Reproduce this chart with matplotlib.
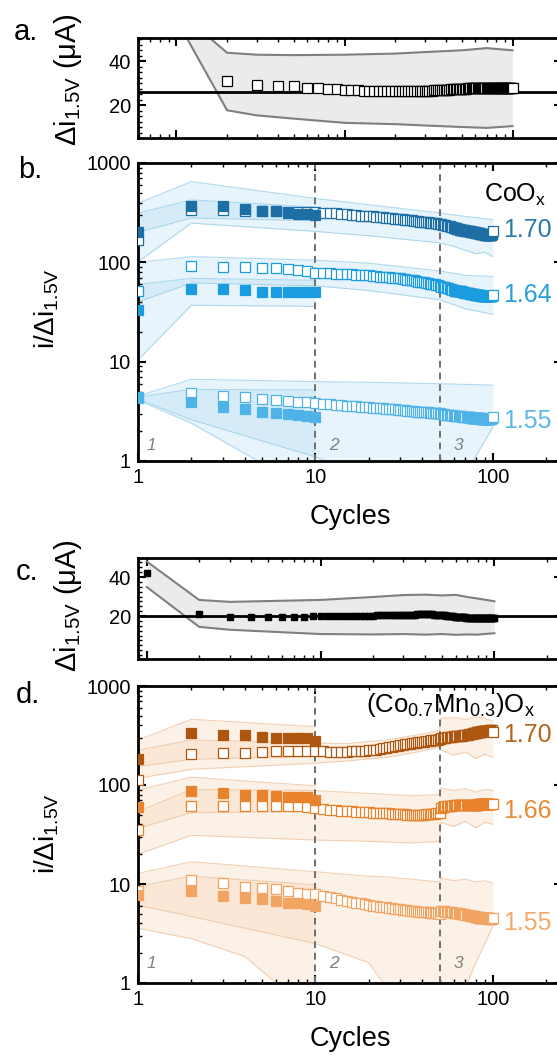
import numpy as np
import matplotlib.pyplot as plt
from matplotlib.ticker import FixedLocator, LogLocator, MultipleLocator, NullFormatter, FuncFormatter

plt.rcParams['font.family'] = ['Liberation Sans', 'DejaVu Sans']
plt.rcParams['mathtext.fontset'] = 'custom'
plt.rcParams['mathtext.rm'] = 'Liberation Sans'
plt.rcParams['mathtext.it'] = 'Liberation Sans:italic'
plt.rcParams['mathtext.default'] = 'regular'

FIG_W, FIG_H = 557, 1056
AX_LEFT, AX_RIGHT = 138, 562

CYCLES = np.arange(1, 101)
EARLY = np.arange(1, 11)
FB_CYC = [1, 2, 10]

# ---- panel a: current step at 1.5 V, CoOx ----
a_mean = [30.9, 29.1, 28.6, 28.6, 28.0, 28.0, 27.6, 27.6, 27.1,
          26.9, 26.8, 26.7, 26.6, 26.6, 26.5, 26.5, 26.5, 26.4, 26.4,
          26.4, 26.4, 26.4, 26.5, 26.5, 26.5, 26.5, 26.6, 26.6, 26.6,
          26.7, 26.7, 26.7, 26.8, 26.8, 26.8, 26.9, 26.9, 27.0, 27.0,
          27.1, 27.1, 27.2, 27.2, 27.3, 27.3, 27.4, 27.4, 27.5, 27.5,
          27.6, 27.6, 27.6, 27.7, 27.7, 27.7, 27.8, 27.8, 27.8, 27.8,
          27.9, 27.9, 27.9, 27.9, 27.9, 28.0, 28.0, 28.0, 28.0, 28.0,
          28.0, 28.0, 28.0, 28.0, 28.0, 28.0, 28.0, 28.0, 28.0, 28.0,
          27.9, 27.9, 27.9, 27.9, 27.9, 27.9, 27.9, 27.9, 27.9, 27.9,
          27.8, 27.8, 27.8, 27.8, 27.8, 27.8, 27.8, 27.8, 27.8, 27.8]
a_ref = 26.0
a_band_cyc = [1, 2, 3, 5, 10, 20, 30, 50, 70, 100]
a_band_hi = [63.5, 43.9, 43.0, 42.8, 43.0, 43.5, 44.2, 45.0, 46.0, 45.0]
a_band_lo = [59.0, 17.7, 15.4, 13.9, 12.0, 11.4, 10.8, 10.1, 9.7, 10.5]

# ---- panel b: CoOx ratios ----
b170_open = [168, 335, 335, 330, 328, 325, 322, 320, 318, 318,
             316, 314, 311, 308, 305, 302, 299, 296, 294, 292,
             290, 288, 286, 284, 282, 280, 278, 276, 274, 272,
             270, 268, 267, 265, 264, 262, 260, 259, 257, 256,
             255, 254, 252, 251, 250, 249, 248, 247, 246, 245,
             242, 240, 238, 236, 234, 232, 230, 228, 226, 224,
             222, 220, 218, 216, 214, 213, 212, 211, 210, 209,
             208, 207, 206, 205, 204, 203, 202, 201, 200, 199,
             198, 197, 196, 196, 195, 194, 193, 192, 191, 190,
             190, 189, 189, 188, 188, 188, 189, 190, 192, 205]
b170_fill = [204, 368, 365, 343, 332, 328, 316, 310, 308, 300]
b164_open = [52, 92, 89, 89, 87.5, 87, 85, 84, 81, 79,
             78, 78, 77, 77, 76, 76, 75, 75, 74, 74,
             73, 73, 72, 72, 71, 71, 70, 70, 69, 69,
             68, 68, 67, 67, 66, 66, 65, 64, 64, 63,
             63, 62, 62, 61, 61, 60, 60, 59, 59, 58,
             57, 57, 56, 56, 55, 55, 54, 54, 53, 53,
             52, 52, 52, 51, 51, 51, 50, 50, 50, 49,
             49, 49, 49, 48, 48, 48, 48, 48, 47, 47,
             47, 47, 47, 47, 47, 46, 46, 46, 46, 46,
             46, 46, 46, 46, 46, 46, 46, 46, 46, 47]
b164_fill = [33, 53.6, 53.6, 52.7, 50.7, 50.5, 50.3, 50.2, 50.0, 50.0]
b155_open = [4.3, 4.8, 4.5, 4.38, 4.2, 4.11, 4.05, 3.96, 3.9, 3.85,
             3.78, 3.74, 3.70, 3.66, 3.62, 3.59, 3.56, 3.53, 3.50, 3.47,
             3.45, 3.43, 3.41, 3.39, 3.37, 3.35, 3.33, 3.31, 3.29, 3.27,
             3.25, 3.23, 3.21, 3.20, 3.18, 3.17, 3.15, 3.14, 3.12, 3.11,
             3.10, 3.09, 3.08, 3.07, 3.06, 3.05, 3.04, 3.03, 3.02, 3.01,
             2.99, 2.97, 2.95, 2.93, 2.92, 2.91, 2.90, 2.89, 2.88, 2.87,
             2.86, 2.85, 2.84, 2.83, 2.82, 2.81, 2.80, 2.80, 2.79, 2.79,
             2.78, 2.77, 2.76, 2.75, 2.74, 2.73, 2.72, 2.71, 2.71, 2.70,
             2.70, 2.69, 2.69, 2.68, 2.68, 2.67, 2.67, 2.67, 2.66, 2.66,
             2.66, 2.66, 2.65, 2.65, 2.65, 2.65, 2.66, 2.68, 2.70, 2.75]
b155_fill = [4.38, 3.96, 3.52, 3.32, 3.14, 3.07, 2.97, 2.90, 2.85, 2.79]

b170_ob_cyc = [1, 2, 10, 20, 50, 60, 70, 80, 90, 100]
b170_ob_hi = [394, 650, 440, 380, 315, 300, 290, 282, 275, 268]
b170_ob_lo = [101, 248, 205, 185, 157, 145, 132, 122, 126, 114]
b170_fb_hi = [313, 425, 360]
b170_fb_lo = [200, 280, 262]
b164_ob_cyc = [1, 2, 10, 20, 50, 70, 100]
b164_ob_hi = [100, 114, 105, 98, 82, 74, 72]
b164_ob_lo = [40, 62, 58, 52, 42, 34, 30]
b164_fb_hi = [60, 69, 66]
b164_fb_lo = [10.4, 37, 36]
b155_ob_cyc = [1, 2, 10, 20, 50, 70, 76, 100]
b155_ob_hi = [4.5, 6.65, 6.3, 6.2, 6.0, 5.9, 5.9, 5.8]
b155_ob_lo = [4.2, 2.6, 1.1, 0.7, 0.5, 0.5, 0.95, 2.2]
b155_fb_cyc = [1, 2, 5, 10]
b155_fb_hi = [4.4, 5.27, 5.2, 5.2]
b155_fb_lo = [4.1, 2.4, 0.95, 0.5]

# ---- panel c: current step at 1.5 V, (Co0.7Mn0.3)Ox ----
c_mean = [42.2, 21.0, 19.6, 19.6, 19.5, 19.5, 19.6, 19.7, 19.8, 19.9,
          20.0, 20.0, 20.1, 20.1, 20.2, 20.2, 20.2, 20.3, 20.3, 20.3,
          20.4, 20.4, 20.4, 20.5, 20.5, 20.5, 20.6, 20.6, 20.6, 20.7,
          20.7, 20.7, 20.8, 20.8, 20.8, 20.9, 20.9, 20.9, 21.0, 21.0,
          21.0, 21.0, 20.9, 20.9, 20.8, 20.8, 20.7, 20.7, 20.6, 20.6,
          20.5, 20.4, 20.3, 20.2, 20.1, 20.0, 19.9, 19.8, 19.7, 19.6,
          19.6, 19.5, 19.5, 19.4, 19.4, 19.3, 19.3, 19.3, 19.2, 19.2,
          19.2, 19.2, 19.1, 19.1, 19.1, 19.1, 19.1, 19.0, 19.0, 19.0,
          19.0, 19.0, 19.0, 19.0, 19.0, 19.0, 19.0, 19.0, 19.0, 19.0,
          19.0, 18.9, 18.9, 18.9, 18.9, 18.9, 18.9, 19.0, 19.0, 19.1]
c_ref = 20.0
c_band_cyc = [1, 2, 3, 10, 20, 30, 40, 50, 60, 70, 80, 90, 100]
c_band_hi = [48.0, 28.3, 27.3, 28.3, 29.8, 30.8, 31.0, 30.6, 30.9, 29.8, 29.0, 28.3, 27.6]
c_band_lo = [34.9, 14.5, 13.0, 10.8, 10.6, 10.8, 10.5, 10.8, 10.4, 10.6, 10.5, 10.9, 11.2]

# ---- panel d: (Co0.7Mn0.3)Ox ratios ----
d170_open = [112, 206, 212, 212, 215, 218, 219, 220, 220, 220,
             218, 217, 217, 216, 217, 218, 219, 220, 222, 224,
             226, 228, 231, 234, 237, 240, 243, 246, 249, 252,
             255, 257, 259, 261, 263, 265, 267, 269, 271, 273,
             275, 277, 279, 281, 283, 285, 286, 287, 288, 290,
             295, 297, 299, 301, 303, 305, 306, 307, 308, 309,
             310, 311, 312, 313, 314, 315, 316, 317, 318, 320,
             321, 322, 324, 326, 328, 330, 332, 334, 336, 338,
             340, 342, 344, 345, 346, 347, 348, 349, 350, 351,
             352, 353, 354, 355, 355, 356, 356, 357, 357, 346]
d170_fill = [182, 333, 320, 320, 307, 300, 295, 295, 300, 280]
d166_open = [35, 61.4, 61.5, 61.5, 61.5, 61.5, 61.5, 61.5, 60, 58,
             57, 56, 55.5, 55, 54.5, 54, 53.7, 53.4, 53.1, 52.8,
             52.6, 52.4, 52.2, 52.0, 51.8, 51.6, 51.4, 51.2, 51.0, 50.8,
             50.6, 50.4, 50.2, 50.0, 49.9, 49.8, 49.8, 49.8, 49.9, 50.0,
             50.2, 50.4, 50.6, 50.8, 51.0, 51.2, 51.4, 51.6, 51.8, 52.0,
             58.5, 59.5, 60.2, 60.8, 61.2, 61.5, 61.7, 61.9, 62.0, 62.1,
             62.2, 62.3, 62.4, 62.5, 62.6, 62.7, 62.8, 62.8, 62.9, 62.9,
             63.0, 63.0, 63.1, 63.1, 63.2, 63.2, 63.3, 63.3, 63.4, 63.4,
             63.5, 63.5, 63.6, 63.6, 63.7, 63.7, 63.8, 63.8, 63.9, 63.9,
             64.0, 64.0, 64.1, 64.1, 64.2, 64.2, 64.3, 64.3, 64.4, 64.5]
d166_fill = [60.4, 87.6, 82.5, 79, 79, 77.5, 75, 75, 76, 70.5]
d155_open = [8.5, 11.0, 10.2, 9.4, 9.05, 8.8, 8.5, 8.2, 8.0, 8.0,
             7.6, 7.4, 7.2, 6.9, 6.8, 6.6, 6.5, 6.4, 6.25, 6.1,
             6.0, 5.95, 5.9, 5.85, 5.8, 5.75, 5.7, 5.65, 5.6, 5.55,
             5.5, 5.45, 5.4, 5.38, 5.35, 5.32, 5.3, 5.27, 5.25, 5.22,
             5.2, 5.18, 5.16, 5.14, 5.12, 5.1, 5.08, 5.06, 5.04, 5.0,
             5.3, 5.3, 5.28, 5.26, 5.24, 5.22, 5.2, 5.18, 5.16, 5.14,
             5.12, 5.1, 5.08, 5.05, 5.02, 5.0, 4.98, 4.95, 4.92, 4.9,
             4.88, 4.85, 4.82, 4.8, 4.78, 4.75, 4.72, 4.7, 4.68, 4.66,
             4.64, 4.62, 4.6, 4.58, 4.57, 4.56, 4.55, 4.54, 4.53, 4.52,
             4.51, 4.5, 4.5, 4.49, 4.49, 4.48, 4.48, 4.47, 4.47, 4.5]
d155_fill = [7.8, 8.5, 7.6, 7.3, 7.05, 6.8, 6.5, 6.4, 6.3, 6.0]

d170_ob_cyc = [1, 2, 10, 15, 25, 37, 50, 51, 60, 70, 80, 90, 100]
d170_ob_hi = [225, 285, 265, 262, 285, 320, 355, 470, 480, 460, 490, 470, 440]
d170_ob_lo = [117, 144, 166, 175, 190, 215, 240, 225, 200, 215, 185, 205, 190]
d170_fb_hi = [285, 461, 388]
d170_fb_lo = [153, 182, 195]
d166_ob_cyc = [1, 2, 10, 20, 35, 50, 51, 60, 70, 80, 90, 100]
d166_ob_hi = [54, 90, 88, 82, 78, 80, 93, 88, 92, 85, 90, 88]
d166_ob_lo = [20, 31, 27.8, 27, 26, 27, 42, 38, 43, 37, 42, 40]
d166_fb_hi = [89, 120, 98]
d166_fb_lo = [36.5, 52.5, 54]
d155_ob_cyc = [1, 2, 10, 20, 25, 50, 51, 60, 70, 80, 90, 100]
d155_ob_hi = [12.8, 16.8, 13.3, 12.0, 11.8, 10.5, 11.5, 10.8, 11.2, 10.5, 10.8, 10.2]
d155_ob_lo = [6.1, 4.7, 2.5, 1.6, 0.9, 0.6, 0.6, 0.6, 0.9, 1.6, 2.5, 3.8]
d155_fb_cyc = [1, 2, 4, 6, 10]
d155_fb_hi = [9.5, 12.0, 11.0, 10.5, 9.8]
d155_fb_lo = [3.57, 2.8, 1.85, 1.0, 0.5]

B_COLORS = ['#1c6ea4', '#1b9ce0', '#4fb3e8']
B_TEXT = ['#2f78a8', '#2a9fdc', '#5cb8e6']
D_COLORS = ['#ad560f', '#e8822c', '#f2a462']
D_TEXT = ['#b5661e', '#e88a35', '#f2aa6a']


def add_axes_px(fig, top, bottom):
    return fig.add_axes([AX_LEFT / FIG_W, 1 - bottom / FIG_H,
                         (AX_RIGHT - AX_LEFT) / FIG_W, (bottom - top) / FIG_H])


def fig_text(fig, x, y, s, **kw):
    fig.text(x / FIG_W, 1 - y / FIG_H, s, **kw)


def style_axes(ax, show_xlabels):
    for sp in ax.spines.values():
        sp.set_linewidth(2)
    ax.set_xscale('log')
    ax.xaxis.set_major_locator(FixedLocator([1, 10, 100, 1000]))
    ax.xaxis.set_minor_locator(LogLocator(base=10, subs=np.arange(2, 10)))
    ax.xaxis.set_minor_formatter(NullFormatter())
    if show_xlabels:
        ax.xaxis.set_major_formatter(FuncFormatter(lambda v, p: f'{v:g}'))
    else:
        ax.xaxis.set_major_formatter(NullFormatter())
    ax.tick_params(which='both', direction='in', top=True, right=True,
                   labelsize=14.5, pad=5)
    ax.tick_params(which='major', length=6, width=1.5)
    ax.tick_params(which='minor', length=3, width=1)


def current_panel(ax, cyc, mean, ref, band_cyc, band_lo, band_hi, xlim, ylim, open_marker):
    style_axes(ax, False)
    ax.fill_between(band_cyc, band_lo, band_hi, color='#ebebeb', lw=0, zorder=1)
    ax.plot(band_cyc, band_lo, color='#7f7f7f', lw=1.5, zorder=2)
    ax.plot(band_cyc, band_hi, color='#7f7f7f', lw=1.5, zorder=2)
    ax.axhline(ref, color='black', lw=2, zorder=3)
    if open_marker:
        ax.plot(cyc, mean, 's', ms=7.5, mfc='white', mec='black', mew=0.9, ls='none', zorder=4)
    else:
        ax.plot(cyc, mean, 's', ms=4, mfc='black', mec='black', ls='none', zorder=4)
    ax.set_xlim(*xlim)
    ax.set_ylim(*ylim)
    ax.yaxis.set_major_locator(FixedLocator([20, 40]))
    ax.yaxis.set_minor_locator(MultipleLocator(2.5))


def band(ax, cyc, lo, hi, face, edge):
    ax.fill_between(cyc, lo, hi, color=face, alpha=0.28, lw=0, zorder=1)
    ax.plot(cyc, lo, color=edge, lw=0.8, alpha=0.8, zorder=1.5)
    ax.plot(cyc, hi, color=edge, lw=0.8, alpha=0.8, zorder=1.5)


def ratio_panel(ax, opens, fills, lates, colors):
    style_axes(ax, True)
    ax.set_yscale('log')
    ax.yaxis.set_major_locator(FixedLocator([1, 10, 100, 1000]))
    ax.yaxis.set_major_formatter(FuncFormatter(lambda v, p: f'{v:g}'))
    ax.yaxis.set_minor_locator(LogLocator(base=10, subs=np.arange(2, 10)))
    ax.yaxis.set_minor_formatter(NullFormatter())
    for x in (10, 50):
        ax.axvline(x, color='#6e6e6e', ls=(0, (3.5, 2.5)), lw=1.4, zorder=2.5)
    for vals, fill, (s, e), col in zip(opens, fills, lates, colors):
        ax.plot(CYCLES[:-1], vals[:-1], 's', ms=7, mfc='white', mec=col, mew=0.9,
                ls='none', zorder=3)
        ax.plot(EARLY, fill, 's', ms=7, mfc=col, mec=col, mew=0.9, ls='none', zorder=4)
        ax.plot(CYCLES[s - 1:e], vals[s - 1:e], 's', ms=7, mfc=col, mec=col, mew=0.9,
                ls='none', zorder=4)
        ax.plot(CYCLES[-1:], vals[-1:], 's', ms=7, mfc='white', mec=col, mew=0.9,
                ls='none', zorder=5)
    ax.set_xlim(1, 245)
    ax.set_ylim(1, 1000)
    ax.set_xlabel('Cycles', fontsize=19.5, labelpad=12)


if __name__ == '__main__':
    fig = plt.figure(figsize=(FIG_W / 100, FIG_H / 100), dpi=100)

    ax_a = add_axes_px(fig, 38, 138)
    current_panel(ax_a, CYCLES[1:], a_mean, a_ref, a_band_cyc, a_band_lo, a_band_hi,
                  (0.59, 197), (5.1, 50.6), True)

    ax_b = add_axes_px(fig, 163, 461)
    blue_face, blue_edge = '#a9d9f3', '#9fd0ea'
    band(ax_b, b170_ob_cyc, b170_ob_lo, b170_ob_hi, blue_face, blue_edge)
    band(ax_b, FB_CYC, b170_fb_lo, b170_fb_hi, blue_face, blue_edge)
    band(ax_b, b164_ob_cyc, b164_ob_lo, b164_ob_hi, blue_face, blue_edge)
    band(ax_b, FB_CYC, b164_fb_lo, b164_fb_hi, blue_face, blue_edge)
    band(ax_b, b155_ob_cyc, b155_ob_lo, b155_ob_hi, blue_face, blue_edge)
    band(ax_b, b155_fb_cyc, b155_fb_lo, b155_fb_hi, blue_face, blue_edge)
    ratio_panel(ax_b, [b170_open, b164_open, b155_open], [b170_fill, b164_fill, b155_fill],
                [(60, 99), (60, 99), (72, 99)], B_COLORS)

    ax_c = add_axes_px(fig, 558, 659)
    current_panel(ax_c, CYCLES, c_mean, c_ref, c_band_cyc, c_band_lo, c_band_hi,
                  (0.89, 245), (-2.0, 49.8), False)

    ax_d = add_axes_px(fig, 686, 983)
    orange_face, orange_edge = '#f6cfaa', '#efc6a4'
    band(ax_d, d170_ob_cyc, d170_ob_lo, d170_ob_hi, orange_face, orange_edge)
    band(ax_d, FB_CYC, d170_fb_lo, d170_fb_hi, orange_face, orange_edge)
    band(ax_d, d166_ob_cyc, d166_ob_lo, d166_ob_hi, orange_face, orange_edge)
    band(ax_d, FB_CYC, d166_fb_lo, d166_fb_hi, orange_face, orange_edge)
    band(ax_d, d155_ob_cyc, d155_ob_lo, d155_ob_hi, orange_face, orange_edge)
    band(ax_d, d155_fb_cyc, d155_fb_lo, d155_fb_hi, orange_face, orange_edge)
    ratio_panel(ax_d, [d170_open, d166_open, d155_open], [d170_fill, d166_fill, d155_fill],
                [(78, 96), (78, 96), (75, 96)], D_COLORS)

    # panel letters and axis titles
    for x, y, s in [(14, 40, 'a.'), (18, 178, 'b.'), (16, 580, 'c.'), (16, 703, 'd.')]:
        fig_text(fig, x, y, s, fontsize=21, va='baseline')
    for y in (80, 606):
        fig_text(fig, 68, y, 'Δi$_{1.5V}$ (μA)', fontsize=21, rotation=90,
                 ha='center', va='center')
    for y in (309, 834):
        fig_text(fig, 47, y, 'i/Δi$_{1.5V}$', fontsize=20, rotation=90,
                 ha='center', va='center')

    # material and potential labels
    fig_text(fig, 484, 202, 'CoO$_x$', fontsize=18, va='baseline')
    for y, s, c in zip((237, 302, 428), ('1.70', '1.64', '1.55'), B_TEXT):
        fig_text(fig, 503, y, s, fontsize=18, color=c, va='baseline')
    fig_text(fig, 366, 712, '(Co$_{0.7}$Mn$_{0.3}$)O$_x$', fontsize=18.5, va='baseline')
    for y, s, c in zip((742, 818, 930), ('1.70', '1.66', '1.55'), D_TEXT):
        fig_text(fig, 503, y, s, fontsize=18, color=c, va='baseline')

    # cycling regions
    for y0 in (445, 963):
        for x, s in [(151, '1'), (334, '2'), (458, '3')]:
            fig_text(fig, x, y0, s, fontsize=12.5, style='italic', color='#808080',
                     ha='center', va='center')

    fig.savefig('out.png', dpi=100)
